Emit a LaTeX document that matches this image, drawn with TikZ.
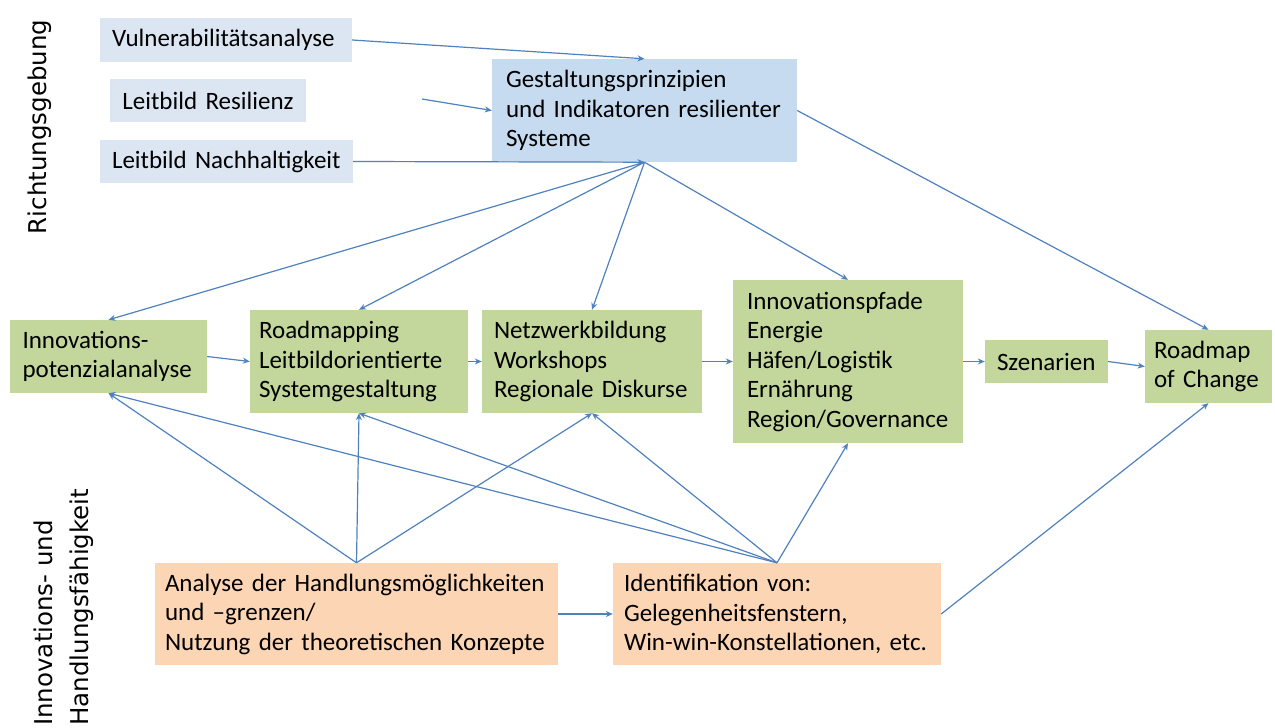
\documentclass[tikz,border=0pt]{standalone}
\usepackage{fontspec}
\setmainfont{Carlito}
\newfontfamily\sidefam{DejaVu Sans}
\usepackage{xcolor}
\usetikzlibrary{arrows.meta}
\hyphenpenalty=10000
\exhyphenpenalty=10000
\newcommand{\boxfont}{\fontsize{25}{29.5}\selectfont}
\newcommand{\sidefont}{\sidefam\fontsize{24.5}{36}\selectfont}
\definecolor{paleblue}{HTML}{DCE6F2}
\definecolor{midblue}{HTML}{C6DBEF}
\definecolor{sage}{HTML}{C3D69B}
\definecolor{peach}{HTML}{FCD5B4}
\definecolor{linkblue}{HTML}{4F81BD}

\begin{document}
\begin{tikzpicture}[x=1pt, y=-1pt,
  every node/.style={font=\boxfont, inner ysep=0pt, inner xsep=12pt, align=left},
  richt/.style={fill=paleblue},
  gestalt/.style={fill=midblue},
  gruen/.style={fill=sage},
  handl/.style={fill=peach},
  side/.style={font=\sidefont, rotate=90, inner sep=0pt},
  pfeil/.style={-{Stealth[length=7pt,width=6pt]}, linkblue, line width=1.2pt}]

  \useasboundingbox (0,0) rectangle (1275,728);

  % ========== Side labels ==========
  \node[side] (lblricht) at (40,127) {Richtungsgebung};
  \node[side, anchor=west, align=left] (lblhandl) at (64,726) {Innovations- und\\Handlungsfähigkeit};

  % ========== Richtungsgebung (blue) ==========
  \node[richt, text width=228pt, minimum height=44pt] (vul) at (226,40) {Vulnerabilitätsanalyse};
  \node[richt, text width=172pt, minimum height=43pt, align=center] (res) at (208,100.5) {Leitbild Resilienz};
  \node[richt, text width=229pt, minimum height=43pt] (nach) at (226.5,161.5) {Leitbild Nachhaltigkeit};
  \node[gestalt, inner xsep=14pt, text width=277pt, minimum height=103pt] (gest) at (644.5,110.5) {Gestaltungsprinzipien\\und Indikatoren resilienter\\Systeme};
  \coordinate (resstart) at (422,99);

  % ========== Middle row (green) ==========
  \node[gruen, inner xsep=12.5pt, text width=172pt, minimum height=73pt] (pot) at (108.5,356.5) {Innovations-\\potenzialanalyse};
  \node[gruen, inner xsep=9pt, text width=200pt, minimum height=103pt] (road) at (359,361.5) {Roadmapping\\Leitbildorientierte\\Systemgestaltung};
  \node[gruen, text width=196pt, minimum height=103pt] (netz) at (592,361.5) {Netzwerkbildung\\Workshops\\Regionale Diskurse};
  \node[gruen, inner xsep=14pt, text width=202pt, minimum height=163pt] (pfade) at (848,361.5) {Innovationspfade\\Energie\\Häfen/Logistik\\Ernährung\\Region/Governance};
  \node[gruen, text width=99pt, minimum height=43pt] (szen) at (1046.5,361.5) {Szenarien};
  \node[gruen, inner xsep=9pt, text width=109pt, minimum height=73pt] (change) at (1208.5,366.5) {Roadmap\\of Change};

  % ========== Handlungsfaehigkeit (orange) ==========
  \node[handl, inner xsep=10pt, text width=383pt, minimum height=102pt] (ana) at (356.5,614) {Analyse der Handlungsmöglichkeiten\\und –grenzen/\\Nutzung der theoretischen Konzepte};
  \node[handl, inner xsep=11pt, text width=306pt, minimum height=102pt] (iden) at (777,614) {Identifikation von:\\Gelegenheitsfenstern,\\Win-win-Konstellationen, etc.};

  % --- Arrows into the design principles ---
  \draw[pfeil] (vul.east) -- (gest.north);
  \draw[pfeil] (resstart) -- (gest.west);
  \draw[pfeil] (nach.east) -- (gest.south);

  % --- Fan out from the design principles ---
  \foreach \ziel in {pot,road,netz,pfade}
    \draw[pfeil] (gest.south) -- (\ziel.north);
  \draw[pfeil] (gest.east) -- (change.north);

  % --- Main chain ---
  \draw[pfeil] (pot.east) -- (road.west);
  \draw[pfeil] (road.east) -- (netz.west);
  \draw[pfeil] (netz.east) -- (pfade.west);
  \draw[pfeil] (pfade.east) -- (szen.west);
  \draw[pfeil] (szen.east) -- (change.west);

  % --- Feedback from the bottom row ---
  \foreach \ziel in {pot,road,netz}
    \draw[pfeil] (ana.north) -- (\ziel.south);
  \foreach \ziel in {pot,road,netz,pfade}
    \draw[pfeil] (iden.north) -- (\ziel.south);
  \draw[pfeil] (ana.east) -- (iden.west);
  \draw[pfeil] (iden.east) -- (change.south);

\end{tikzpicture}
\end{document}
